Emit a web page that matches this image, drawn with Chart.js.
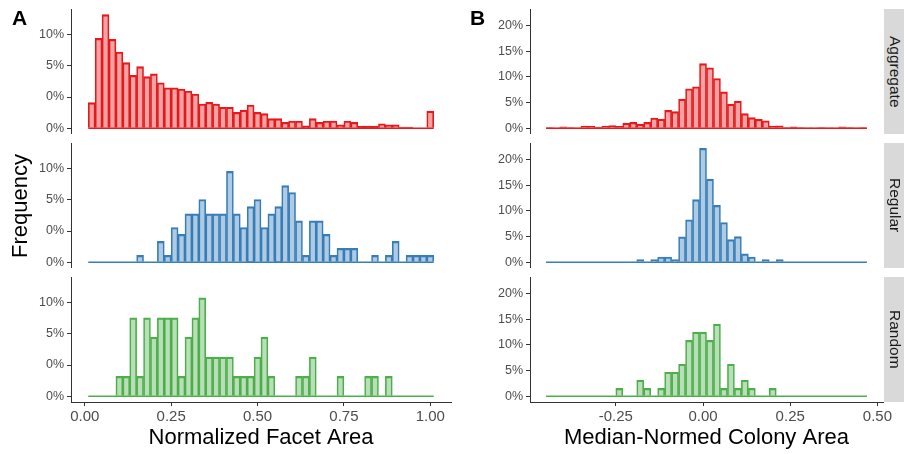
<!DOCTYPE html>
<html>
<head>
<meta charset="utf-8">
<title>Facet and colony area histograms</title>
<script src="https://cdn.jsdelivr.net/npm/chart.js@4.4.1/dist/chart.umd.min.js"></script>
<style>
  body { margin: 0; background: #fff; font-family: "Liberation Sans", Arial, sans-serif; }
  #page { position: relative; width: 904px; height: 454px; overflow: hidden; }
  .panel { position: absolute; }
  .panel canvas { display: block; }
  .strip {
    position: absolute; left: 884px; width: 22px; height: 125px;
    background: #d9d9d9; color: #1a1a1a; font-size: 15.5px;
    writing-mode: vertical-rl; text-align: center; line-height: 22px;
  }
  .tag { position: absolute; top: 7px; font-weight: bold; font-size: 21px; line-height: 21px; color: #000; }
  #ylab {
    position: absolute; left: -80px; top: 195px; width: 200px; height: 22px;
    line-height: 22px; font-size: 22px; text-align: center; color: #000;
    transform: rotate(-90deg);
  }
</style>
</head>
<body>
<div id="page">
  <div class="panel" style="left:21px;top:9px"><canvas id="la" width="440" height="125"></canvas></div>
  <div class="panel" style="left:21px;top:143px"><canvas id="lr" width="440" height="125"></canvas></div>
  <div class="panel" style="left:21px;top:277px"><canvas id="ln" width="440" height="177"></canvas></div>
  <div class="panel" style="left:480px;top:9px"><canvas id="ra" width="424" height="125"></canvas></div>
  <div class="panel" style="left:480px;top:143px"><canvas id="rr" width="424" height="125"></canvas></div>
  <div class="panel" style="left:480px;top:277px"><canvas id="rn" width="424" height="177"></canvas></div>
  <div class="strip" style="top:9px">Aggregate</div>
  <div class="strip" style="top:143px">Regular</div>
  <div class="strip" style="top:277px">Random</div>
  <div class="tag" style="left:12px">A</div>
  <div class="tag" style="left:470px">B</div>
  <div id="ylab">Frequency</div>
</div>
<script>
// bin centres (bin width 0.02)
const facetBins = [0.02,0.04,0.06,0.08,0.10,0.12,0.14,0.16,0.18,0.20,0.22,0.24,0.26,0.28,0.30,0.32,0.34,0.36,0.38,0.40,
  0.42,0.44,0.46,0.48,0.50,0.52,0.54,0.56,0.58,0.60,0.62,0.64,0.66,0.68,0.70,0.72,0.74,0.76,0.78,0.80,
  0.82,0.84,0.86,0.88,0.90,0.92,0.94,0.96,0.98,1.00];
const colonyBins = [-0.44,-0.42,-0.40,-0.38,-0.36,-0.34,-0.32,-0.30,-0.28,-0.26,-0.24,-0.22,-0.20,-0.18,-0.16,-0.14,
  -0.12,-0.10,-0.08,-0.06,-0.04,-0.02,0.00,0.02,0.04,0.06,0.08,0.10,0.12,0.14,0.16,0.18,0.20,0.22,0.24,0.26,
  0.28,0.30,0.32,0.34,0.36,0.38,0.40,0.42,0.44,0.46];
const facetRange = [0.01, 1.01];
const colonyRange = [-0.45, 0.47];

// frequencies in percent
const facetAggregate = [2.05,7.18,9.07,7.10,6.09,5.24,4.23,4.92,4.12,4.34,3.64,3.24,3.24,3.14,2.98,2.74,1.94,2.07,1.94,1.68,
  1.68,1.28,1.46,1.86,1.28,1.17,0.77,0.77,0.48,0.59,0.59,0.21,0.77,0.48,0.59,0.59,0.29,0.59,0.48,0.19,
  0.19,0.19,0.37,0.29,0.29,0.10,0.10,0,0,1.38];
const facetRegular = [0,0,0,0,0,0,0,0.56,0,0,1.67,0.56,2.78,2.23,3.87,3.87,5.01,3.87,3.87,3.87,
  7.26,3.87,2.78,4.45,5.01,2.78,3.87,4.45,6.12,5.57,3.31,0.56,3.31,3.31,2.23,0.56,1.11,1.11,1.11,0,
  0,0.56,0,0.56,1.67,0,0.56,0.56,0.56,0.56];
const facetRandom = [0,0,0,0,1.59,1.59,6.26,1.59,6.26,4.72,6.26,6.26,6.26,1.59,4.72,6.26,7.85,3.13,3.13,3.13,
  3.13,1.59,1.59,1.59,3.13,4.72,1.59,0,0,0,1.59,1.59,3.13,0,0,0,1.59,0,0,0,
  1.59,1.59,0,1.59,0,0,0,0,0,0];
const colonyAggregate = [0.13,0.07,0.30,0.13,0.03,0.45,0.45,0.25,0.45,0.52,0.38,1.00,1.15,0.80,1.15,2.00,1.76,3.50,3.25,5.70,
  7.70,8.10,12.6,11.8,9.70,7.10,4.70,5.30,2.85,2.08,1.73,1.47,0.45,0.48,0.13,0.27,0.13,0.03,0.07,0.13,
  0.03,0.07,0.30,0.13,0.03,0.13];
const colonyRegular = [0,0,0,0,0,0,0,0,0,0,0,0,0,0.52,0,0.52,1.04,1.04,0.52,4.95,
  8.30,12.2,22.2,16.2,11.1,7.75,4.43,5.00,1.63,1.04,0,0.52,0,0.52,0,0,0,0,0,0,
  0,0,0,0,0,0];
const colonyRandom = [0,0,0,0,0,0,0,0,0,0,1.56,0,0,3.13,1.56,0,1.56,4.69,4.69,6.25,
  10.9,12.5,12.5,10.9,14.07,1.56,6.25,1.56,3.13,1.56,0,0,1.56,0,0,0,0,0,0,0,
  0,0,0,0,0,0];

// axis ticks and their printed labels
const facetTicks = [0, 0.25, 0.5, 0.75, 1];
const facetTickLabels = ['0.00', '0.25', '0.50', '0.75', '1.00'];
const colonyTicks = [-0.25, 0, 0.25, 0.5];
const colonyTickLabels = ['-0.25', '0.00', '0.25', '0.50'];
const facetFreqTicks = [0, 2.5, 5, 7.5];
const facetFreqLabels = ['0%', '0%', '5%', '10%'];
const colonyFreqTicks = [0, 5, 10, 15, 20];
const colonyFreqLabels = ['0%', '5%', '10%', '15%', '20%'];

const RED = '#E41A1C', BLUE = '#377EB8', GREEN = '#4DAF4A';
const fills = { [RED]: 'rgba(228,26,28,0.4)', [BLUE]: 'rgba(55,126,184,0.4)', [GREEN]: 'rgba(77,175,74,0.4)' };

Chart.defaults.font.family = '"Liberation Sans", Arial, sans-serif';

function makePanel(id, cfg) {
  const axisColor = '#333';
  new Chart(document.getElementById(id), {
    type: 'bar',
    data: {
      datasets: [
        {
          type: 'line',
          data: [{ x: cfg.range[0], y: 0 }, { x: cfg.range[1], y: 0 }],
          borderColor: cfg.color, borderWidth: 1.5, pointRadius: 0, order: 1
        },
        {
          type: 'bar',
          data: cfg.bins.map((b, i) => ({ x: b, y: cfg.values[i] })),
          backgroundColor: fills[cfg.color],
          borderColor: cfg.color,
          borderWidth: { top: 1.5, left: 1, right: 1, bottom: 0 },
          borderSkipped: false,
          barPercentage: 1, categoryPercentage: 1, order: 2
        }
      ]
    },
    options: {
      responsive: false, animation: false, devicePixelRatio: 1,
      layout: { padding: { left: 0, top: 0, bottom: 0, right: cfg.padRight } },
      plugins: { legend: { display: false }, tooltip: { enabled: false } },
      scales: {
        x: {
          type: 'linear', offset: false, display: cfg.showX,
          min: cfg.xMin, max: cfg.xMax,
          afterBuildTicks: s => { s.ticks = cfg.xTicks.map(v => ({ value: v })); },
          afterFit: s => {
            s.height = cfg.showX ? 52 : 0;
            s.paddingLeft = 0; s.paddingRight = 0;
          },
          ticks: { autoSkip: false, maxRotation: 0, padding: 2, color: '#4d4d4d', font: { size: 15 },
                   callback: (v, i) => cfg.xLabels[i] },
          grid: { display: true, offset: false, drawOnChartArea: false, drawTicks: true, tickLength: 4, color: axisColor },
          border: { display: true, color: axisColor, width: 1 },
          title: { display: true, text: cfg.xTitle, color: '#000', font: { size: 22 }, padding: { top: 0, bottom: 3 } }
        },
        y: {
          min: cfg.yMin, max: cfg.yMax,
          afterBuildTicks: s => { s.ticks = cfg.yTicks.map(v => ({ value: v })); },
          afterFit: s => { s.width = 50; s.paddingTop = 0; s.paddingBottom = 0; s.paddingLeft = 0; s.paddingRight = 0; },
          ticks: { autoSkip: false, padding: 3, color: '#4d4d4d', font: { size: 12.5 },
                   callback: (v, i) => cfg.yLabels[i] },
          grid: { display: true, offset: false, drawOnChartArea: false, drawTicks: true, tickLength: 4, color: axisColor },
          border: { display: true, color: axisColor, width: 1 }
        }
      }
    }
  });
}

const facetCommon = {
  bins: facetBins, range: facetRange, xMin: -0.04, xMax: 1.06, padRight: 10,
  xTicks: facetTicks, xLabels: facetTickLabels, xTitle: 'Normalized Facet Area',
  yMin: -0.45, yMax: 9.52, yTicks: facetFreqTicks, yLabels: facetFreqLabels
};
const colonyCommon = {
  bins: colonyBins, range: colonyRange, xMin: -0.496, xMax: 0.516, padRight: 21,
  xTicks: colonyTicks, xLabels: colonyTickLabels, xTitle: 'Median-Normed Colony Area',
  yMin: -1.11, yMax: 23.25, yTicks: colonyFreqTicks, yLabels: colonyFreqLabels
};

makePanel('la', { ...facetCommon, values: facetAggregate, color: RED, showX: false });
makePanel('lr', { ...facetCommon, values: facetRegular, color: BLUE, showX: false });
makePanel('ln', { ...facetCommon, values: facetRandom, color: GREEN, showX: true });
makePanel('ra', { ...colonyCommon, values: colonyAggregate, color: RED, showX: false });
makePanel('rr', { ...colonyCommon, values: colonyRegular, color: BLUE, showX: false });
makePanel('rn', { ...colonyCommon, values: colonyRandom, color: GREEN, showX: true });
</script>
</body>
</html>
